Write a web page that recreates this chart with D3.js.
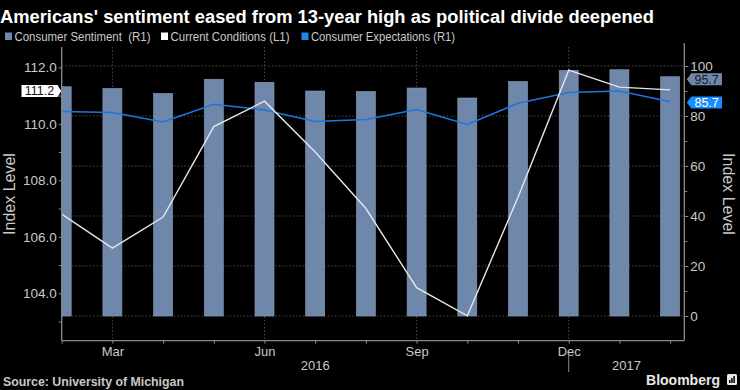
<!DOCTYPE html>
<html><head><meta charset="utf-8">
<script src="https://cdn.jsdelivr.net/npm/d3@7"></script>
<style>
html,body{margin:0;padding:0;background:#000;}
svg{display:block;}
text{font-family:"Liberation Sans",Arial,sans-serif;}
</style></head>
<body>
<svg id="chart" width="740" height="390"></svg>
<script>
// ---- data ----
const months = ["Feb","Mar","Apr","May","Jun","Jul","Aug","Sep","Oct","Nov","Dec","Jan","Feb"];
const monthYears = [2016,2016,2016,2016,2016,2016,2016,2016,2016,2016,2016,2017,2017];
const consumerSentiment = [91.7,91.0,89.0,94.7,93.5,90.0,89.8,91.2,87.2,93.8,98.2,98.5,95.7];
const currentConditions = [106.8,105.6,106.7,109.9,110.8,109.0,107.0,104.2,103.2,107.4,111.9,111.3,111.2];
const consumerExpectations = [81.8,81.4,77.6,84.7,82.4,77.8,78.6,82.6,76.6,85.1,89.4,90.0,85.7];
const majorMonthLabels = ["Mar","Jun","Sep","Dec"];
const leftTicks = [104,106,108,110,112];
const leftMinorTicks = [103,105,107,109,111];
const rightTicks = [0,20,40,60,80,100];
const rightMinorTicks = [10,30,50,70,90];
const years = ["2016","2017"];
const legendItems = ["Consumer Sentiment  (R1)","Current Conditions (L1)","Consumer Expectations (R1)"];

const colBar = "#6f87aa", colBarStroke = "#8b9dbb", colWhite = "#e6e6e6", colBlue = "#1a78dc";
const colText = "#c9c9c9", colAxis = "#8a8a8a", colGrid = "#4a4a4a";

const svg = d3.select("#chart");
const L = 61.7, R = 684.3, T = 47, B = 340.7;

const idx = months.map((m,i)=>i);
const x = d3.scaleLinear().domain([0, 12.28]).range([L, R]);
const yL = d3.scaleLinear().domain([102.32, 112.72]).range([B, T]);
const yR = d3.scaleLinear().domain([-9.88, 107.6]).range([B, T]);

svg.append("rect").attr("width",740).attr("height",390).attr("fill","#000");

// title
svg.append("text").attr("x",0).attr("y",23)
  .attr("fill","#fff").attr("font-weight","bold").attr("font-size",18)
  .attr("textLength",654).attr("lengthAdjust","spacingAndGlyphs")
  .text("Americans' sentiment eased from 13-year high as political divide deepened");

// legend
const legCols = [colBar, "#ffffff", "#1e88f0"];
const legX = [5, 161, 301.5];
const legW = [136, 119, 144];
legendItems.forEach((t,i)=>{
  svg.append("rect").attr("x",legX[i]).attr("y",32.5).attr("width",7).attr("height",7.5).attr("fill",legCols[i]);
  svg.append("text").attr("x",legX[i]+9.5).attr("y",40.5).attr("fill",colText)
    .attr("font-size",12).style("white-space","pre")
    .attr("textLength",legW[i]).attr("lengthAdjust","spacingAndGlyphs").text(t);
});

// clip
svg.append("clipPath").attr("id","plotclip").append("rect")
  .attr("x",L).attr("y",T).attr("width",R-L).attr("height",B-T);

// gridlines
const grid = svg.append("g");
grid.selectAll("line.h").data(rightTicks).join("line")
  .attr("x1",L).attr("x2",R).attr("y1",d=>yR(d)).attr("y2",d=>yR(d))
  .attr("stroke",colGrid).attr("stroke-dasharray","1.5,2").attr("stroke-width",1);
const majorIdx = idx.filter(i=>majorMonthLabels.includes(months[i]) && monthYears[i]===2016);
grid.selectAll("line.v").data(majorIdx).join("line")
  .attr("x1",d=>x(d)).attr("x2",d=>x(d)).attr("y1",T).attr("y2",B)
  .attr("stroke",colGrid).attr("stroke-dasharray","1.5,2").attr("stroke-width",1);

const plot = svg.append("g").attr("clip-path","url(#plotclip)");
const bw = 19;
plot.selectAll("rect.bar").data(idx).join("rect")
  .attr("x",i=>x(i)-bw/2).attr("width",bw)
  .attr("y",i=>yR(consumerSentiment[i])).attr("height",i=>yR(0)-yR(consumerSentiment[i]))
  .attr("fill",colBar).attr("stroke",colBarStroke).attr("stroke-width",0.6);

plot.append("path").datum(idx)
  .attr("d",d3.line().x(i=>x(i)).y(i=>yR(consumerExpectations[i])))
  .attr("fill","none").attr("stroke",colBlue).attr("stroke-width",1.6);
plot.append("path").datum(idx)
  .attr("d",d3.line().x(i=>x(i)).y(i=>yL(currentConditions[i])))
  .attr("fill","none").attr("stroke",colWhite).attr("stroke-width",1.4);

// axes
function styleAxis(g){
  g.select(".domain").attr("stroke",colAxis).attr("stroke-width",1.3);
  g.selectAll(".tick line").attr("stroke",colAxis);
  g.selectAll("text").attr("fill",colText).attr("font-family","Liberation Sans, Arial, sans-serif");
}
const gl = svg.append("g").attr("transform",`translate(${L},0)`)
  .call(d3.axisLeft(yL).tickValues(leftTicks).tickFormat(d3.format(".1f")).tickSize(3).tickPadding(2).tickSizeOuter(0));
styleAxis(gl); gl.selectAll("text").attr("font-size",13.5);
gl.select(".domain").attr("d",`M0,${T}V${B}`);
const glm = svg.append("g").attr("transform",`translate(${L},0)`)
  .call(d3.axisLeft(yL).tickValues(leftMinorTicks).tickFormat("").tickSize(3).tickSizeOuter(0));
glm.select(".domain").remove(); glm.selectAll(".tick line").attr("stroke",colAxis);

const gr = svg.append("g").attr("transform",`translate(${R},0)`)
  .call(d3.axisRight(yR).tickValues(rightTicks).tickFormat(d3.format("d")).tickSize(4).tickPadding(2).tickSizeOuter(0));
styleAxis(gr); gr.selectAll("text").attr("font-size",13.5);
gr.select(".domain").attr("d",`M0,${T-4}V${B}`);
const grm = svg.append("g").attr("transform",`translate(${R},0)`)
  .call(d3.axisRight(yR).tickValues(rightMinorTicks).tickFormat("").tickSize(3).tickSizeOuter(0));
grm.select(".domain").remove(); grm.selectAll(".tick line").attr("stroke",colAxis);

const gx = svg.append("g").attr("transform",`translate(0,${B})`)
  .call(d3.axisBottom(x).tickValues(idx).tickFormat(i=>majorIdx.includes(i)?months[i]:"").tickSize(3).tickPadding(3).tickSizeOuter(0));
styleAxis(gx); gx.selectAll("text").attr("font-size",13);
gx.select(".domain").attr("d",`M${L},0H${R}`);

// years
const yearBreak = monthYears.lastIndexOf(2016);
const yearSpans = [[L, x(yearBreak)],[x(yearBreak), R]];
years.forEach((yv,i)=>{
  svg.append("text").attr("x",(yearSpans[i][0]+yearSpans[i][1])/2).attr("y",369.5)
    .attr("text-anchor","middle").attr("fill",colText).attr("font-size",13).text(yv);
});
svg.append("line").attr("x1",x(yearBreak)).attr("x2",x(yearBreak)).attr("y1",355).attr("y2",372)
  .attr("stroke",colAxis).attr("stroke-width",1);

// axis titles
svg.append("text").attr("transform","translate(15,194) rotate(-90)").attr("text-anchor","middle")
  .attr("fill",colText).attr("font-size",16).text("Index Level");
svg.append("text").attr("transform","translate(723,194) rotate(90)").attr("text-anchor","middle")
  .attr("fill",colText).attr("font-size",16).text("Index Level");

// value labels
const lastI = idx.length-1;
function leftTag(val, y, fill, tcol){
  const x1 = 21.5, x2 = 57.5, tip = L-0.5, h = 12;
  svg.append("path").attr("d",`M${x1},${y-h/2}H${x2}L${tip},${y}L${x2},${y+h/2}H${x1}Z`).attr("fill",fill);
  svg.append("text").attr("x",(x1+x2)/2).attr("y",y+4.5).attr("text-anchor","middle")
    .attr("fill",tcol).attr("font-size",12.5).text(val);
}
function rightTag(val, y, fill, tcol){
  const tip = R+2.5, x1 = R+7, x2 = 722, h = 12;
  svg.append("path").attr("d",`M${tip},${y}L${x1},${y-h/2}H${x2}V${y+h/2}H${x1}Z`).attr("fill",fill);
  svg.append("text").attr("x",(x1+x2)/2).attr("y",y+4.5).attr("text-anchor","middle")
    .attr("fill",tcol).attr("font-size",12.5).text(val);
}
leftTag(currentConditions[lastI].toFixed(1), yL(currentConditions[lastI])+1, "#ffffff", "#111");
rightTag(consumerSentiment[lastI].toFixed(1), yR(consumerSentiment[lastI])+2.5, colBar, "#1a1a1a");
rightTag(consumerExpectations[lastI].toFixed(1), yR(consumerExpectations[lastI])+0.8, "#1a8cff", "#ffffff");

// footer
svg.append("text").attr("x",3).attr("y",385.5).attr("fill",colText).attr("font-weight","bold")
  .attr("font-size",12).attr("textLength",181).attr("lengthAdjust","spacingAndGlyphs")
  .text("Source: University of Michigan");
svg.append("text").attr("x",720).attr("y",384.5).attr("text-anchor","end").attr("fill","#e8e8e8")
  .attr("font-weight","bold").attr("font-size",14.5).attr("textLength",74).attr("lengthAdjust","spacingAndGlyphs")
  .text("Bloomberg");
const ic = svg.append("g").attr("transform","translate(727,374)");
ic.append("rect").attr("width",10).attr("height",11).attr("rx",1.5).attr("fill","#e8e8e8");
[[2,6,1.5,3],[4.2,4,1.5,5],[6.4,2,1.5,7]].forEach(b=>ic.append("rect").attr("x",b[0]).attr("y",b[1]).attr("width",b[2]).attr("height",b[3]).attr("fill","#000"));
</script>
</body></html>
